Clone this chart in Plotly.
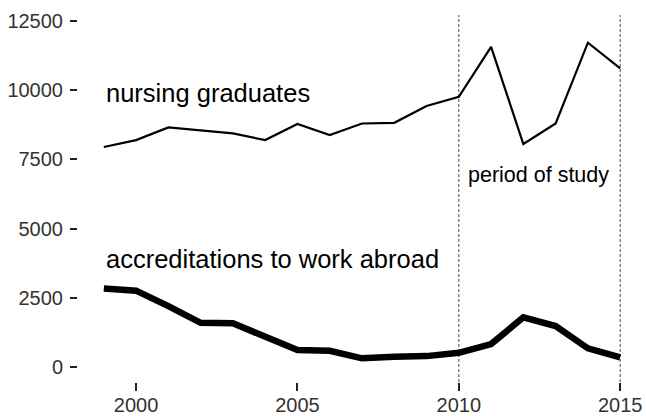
import plotly.graph_objects as go

years = list(range(1999, 2016))
nursing_graduates = [7950, 8200, 8660, 8560, 8440, 8200, 8780, 8380, 8800, 8825,
                     9430, 9765, 11570, 8060, 8800, 11720, 10790]
accreditations = [2840, 2760, 2200, 1600, 1580, 1075, 615, 590, 315, 370,
                  395, 515, 830, 1795, 1480, 675, 350]
y_ticks = [0, 2500, 5000, 7500, 10000, 12500]
y_tick_labels = ["0", "2500", "5000", "7500", "10000", "12500"]
x_ticks = [2000, 2005, 2010, 2015]
x_tick_labels = ["2000", "2005", "2010", "2015"]
study_period = [2010, 2015]

FONT = "Liberation Sans, Arial, sans-serif"

fig = go.Figure()
fig.add_trace(go.Scatter(x=years, y=nursing_graduates, mode="lines",
                         line=dict(color="black", width=2.2), showlegend=False))
fig.add_trace(go.Scatter(x=years, y=accreditations, mode="lines",
                         line=dict(color="black", width=6.5), showlegend=False))

for xv in study_period:
    fig.add_shape(type="line", x0=xv, x1=xv, y0=0, y1=1, xref="x", yref="paper",
                  line=dict(color="#333", width=0.9, dash="3px,2px"), layer="below")

fig.add_annotation(x=1999, y=9900, text="nursing graduates", showarrow=False,
                   xanchor="left", yanchor="middle",
                   font=dict(family=FONT, size=25.5, color="black"))
fig.add_annotation(x=1999, y=3900, text="accreditations to work abroad", showarrow=False,
                   xanchor="left", yanchor="middle",
                   font=dict(family=FONT, size=25.5, color="black"))
fig.add_annotation(x=2010.22, y=6940, text="period of study", showarrow=False,
                   xanchor="left", yanchor="middle",
                   font=dict(family=FONT, size=21.5, color="black"))

fig.update_layout(
    width=646, height=416,
    margin=dict(l=78, r=0, t=15, b=34),
    paper_bgcolor="white", plot_bgcolor="white",
    font=dict(family=FONT, size=20, color="#333"),
)
fig.update_xaxes(range=[1998.2, 2015.8], tickvals=x_ticks, ticktext=x_tick_labels,
                 ticks="outside", ticklen=8, automargin=False, ticklabelstandoff=-3,
                 tickwidth=1.6, tickcolor="#222", showgrid=False, zeroline=False,
                 showline=False, tickfont=dict(size=20, color="#333"))
fig.update_yaxes(range=[-540, 12720], tickvals=y_ticks, ticktext=y_tick_labels,
                 ticks="outside", ticklen=7, automargin=False, ticklabelstandoff=3,
                 tickwidth=1.6, tickcolor="#222", showgrid=False, zeroline=False,
                 showline=False, tickfont=dict(size=20, color="#333"))

# remove the page's default body margin so the 646x416 figure fills the window
fig.write_html("out.html", config={"displayModeBar": False},
               post_script="document.body.style.margin='0';document.body.style.overflow='hidden';")
